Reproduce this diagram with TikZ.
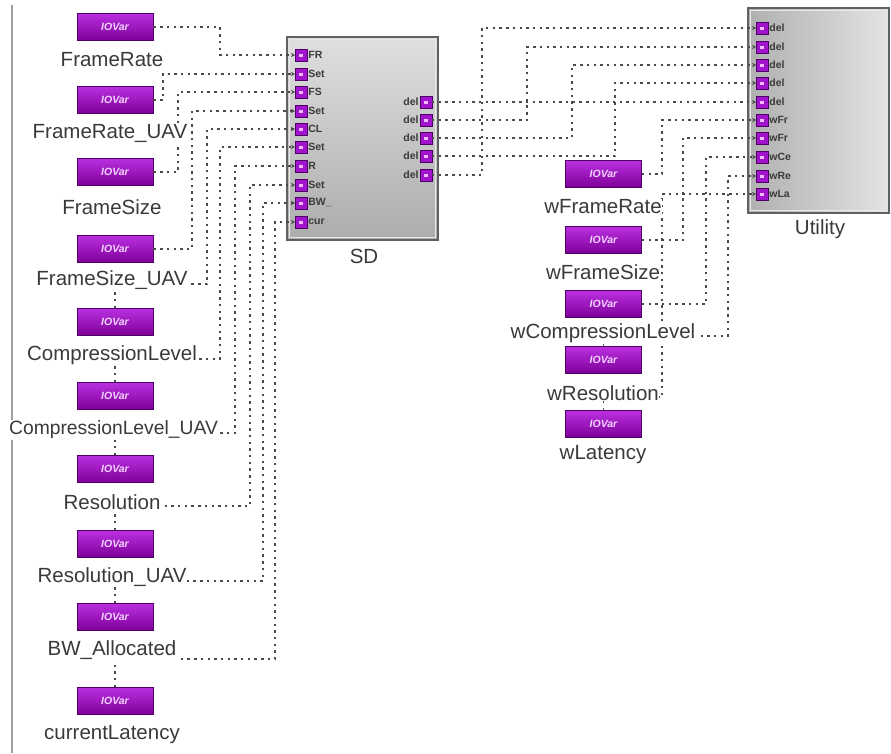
\documentclass[tikz,border=0pt]{standalone}
\usepackage{fontspec}
\setmainfont{Liberation Sans}
\usetikzlibrary{arrows.meta}
\definecolor{iopurple}{HTML}{A014CC}
\definecolor{iotop}{HTML}{BA30E0}
\definecolor{iobot}{HTML}{7E0098}
\definecolor{ioborder}{HTML}{4E0066}
\definecolor{iotext}{HTML}{F2D2FF}
\definecolor{conncol}{HTML}{4A4A4A}
\definecolor{txtcol}{HTML}{3A3A3A}
\definecolor{portmark}{HTML}{F0B8FF}
\begin{document}
\begin{tikzpicture}[x=1pt,y=-1pt,
  iovar/.style={rectangle, draw=ioborder, line width=0.8pt, top color=iotop, bottom color=iobot,
    minimum width=76pt, minimum height=27pt, inner sep=0pt, text=iotext,
    font=\fontsize{10.5}{10.5}\selectfont\bfseries\itshape},
  lab/.style={fill=white, inner sep=0.6pt, text=txtcol, font=\fontsize{20.5}{20.5}\selectfont},
  conn/.style={draw=conncol, line width=1.9pt, dash pattern=on 2.4pt off 4.3pt},
  tip/.style={-{Stealth[length=4pt,width=4pt]}},
  port/.style={rectangle, draw=ioborder, line width=0.5pt, fill=iopurple, minimum size=11.5pt, inner sep=0pt,
    path picture={\fill[portmark] ([shift={(-2.3pt,-1.5pt)}]path picture bounding box.center) rectangle ++(4.6pt,3pt);}},
  plab/.style={font=\fontsize{10.5}{10.5}\selectfont\bfseries, text=txtcol, inner sep=1.2pt},
  blocka/.style={rectangle, draw=black!62, line width=2pt, top color=gray!25, bottom color=gray!65, inner sep=0pt},
  blockb/.style={rectangle, draw=black!62, line width=2pt, left color=gray!62, right color=gray!22, inner sep=0pt},
  bevel/.style={draw=white!82!gray, line width=1.6pt}
]
\useasboundingbox (0,0) rectangle (891,753);
\fill[white] (0,0) rectangle (891,753);
\draw[gray!75, line width=2pt] (12,5) -- (12,753);

% blocks
\node[blocka, minimum width=151pt, minimum height=203pt] (sd) at (362.5,138.5) {};
\draw[bevel] ([shift={(3.5pt,-3.5pt)}]sd.north west) rectangle ([shift={(-3.5pt,3.5pt)}]sd.south east);
\node[blockb, minimum width=141pt, minimum height=205pt] (ut) at (818.5,110.5) {};
\draw[bevel] ([shift={(3.5pt,-3.5pt)}]ut.north west) rectangle ([shift={(-3.5pt,3.5pt)}]ut.south east);

% SD ports
\foreach \i/\y/\t in {1/55/FR,2/74/Set,3/92/FS,4/111/Set,5/129/CL,6/147/Set,7/166/R,8/185/Set,9/203/BW\_,10/222/cur}{
  \node[port] (p\i) at (301,\y) {};
  \node[plab, anchor=west] (pl\i) at (p\i.east) {\t};
}
\foreach \i/\y in {1/102,2/120,3/138,4/156,5/175}{
  \node[port] (q\i) at (426,\y) {};
  \node[plab, anchor=east] (ql\i) at (q\i.west) {del};
}
% Utility ports
\foreach \i/\y/\t in {1/28/del,2/47/del,3/65/del,4/83/del,5/102/del,6/120/wFr,7/138/wFr,8/157/wCe,9/176/wRe,10/194/wLa}{
  \node[port] (u\i) at (762,\y) {};
  \node[plab, anchor=west] (ul\i) at (u\i.east) {\t};
}

% IOVar boxes
\foreach \i/\y in {1/27,2/100,3/172,4/249,5/322,6/396,7/469,8/544,9/617,10/701}
  \node[iovar] (b\i) at (115,\y) {IOVar};
\foreach \i/\y in {1/174,2/240,3/304,4/360,5/424}
  \node[iovar] (c\i) at (603.5,\y) {IOVar};

% connectors left
\draw[conn,tip] (b1.east) -| (220,55) -- (p1.west);
\draw[conn,tip] (b2.east) -| (163,74) -- (p2.west);
\draw[conn,tip] (b3.east) -| (178,92) -- (p3.west);
\draw[conn,tip] (b4.east) -| (192,111) -- (p4.west);
\draw[conn,tip] (b5.north) |- (207,284) |- (p5.west);
\draw[conn,tip] (b6.north) |- (220,359) |- (p6.west);
\draw[conn,tip] (b7.north) |- (235,433) |- (p7.west);
\draw[conn,tip] (b8.north) |- (250,506) |- (p8.west);
\draw[conn,tip] (b9.north) |- (263,581) |- (p9.west);
\draw[conn,tip] (b10.north) |- (275,659) |- (p10.west);

% connectors SD -> Utility
\draw[conn,tip] (q1.east) -- (u5.west);
\draw[conn,tip] (q2.east) -| (527,47) -- (u2.west);
\draw[conn,tip] (q3.east) -| (572,65) -- (u3.west);
\draw[conn,tip] (q4.east) -| (615,83) -- (u4.west);
\draw[conn,tip] (q5.east) -| (482,28) -- (u1.west);

% connectors weights -> Utility
\draw[conn,tip] (c1.east) -| (662,120) -- (u6.west);
\draw[conn,tip] (c2.east) -| (683,138) -- (u7.west);
\draw[conn,tip] (c3.east) -| (706,157) -- (u8.west);
\draw[conn,tip] (c4.north) |- (728,336) |- (u9.west);
\draw[conn,tip] (c5.north) |- (662,397) |- (u10.west);

% labels
\node[lab] (t1) at (112,60) {FrameRate};
\node[lab] (t2) at (110,133) {FrameRate\_UAV};
\node[lab] (t3) at (112,207) {FrameSize};
\node[lab] (t4) at (112,280) {FrameSize\_UAV};
\node[lab] (t5) at (112,355) {CompressionLevel};
\node[lab, font=\fontsize{19.3}{19.3}\selectfont] (t6) at (113.5,430) {CompressionLevel\_UAV};
\node[lab] (t7) at (112,502) {Resolution};
\node[lab] (t8) at (112,577) {Resolution\_UAV};
\node[lab] (t9) at (112,650) {BW\_Allocated};
\node[lab] (t10) at (112,735) {currentLatency};

\node[lab] (w1) at (603,207) {wFrameRate};
\node[lab] (w2) at (603,272) {wFrameSize};
\node[lab] (w3) at (603,333) {wCompressionLevel};
\node[lab] (w4) at (603,393) {wResolution};
\node[lab] (w5) at (603,455) {wLatency};

\node[lab] (sdl) at (364,256) {SD};
\node[lab] (utl) at (820,229) {Utility};
\end{tikzpicture}
\end{document}
